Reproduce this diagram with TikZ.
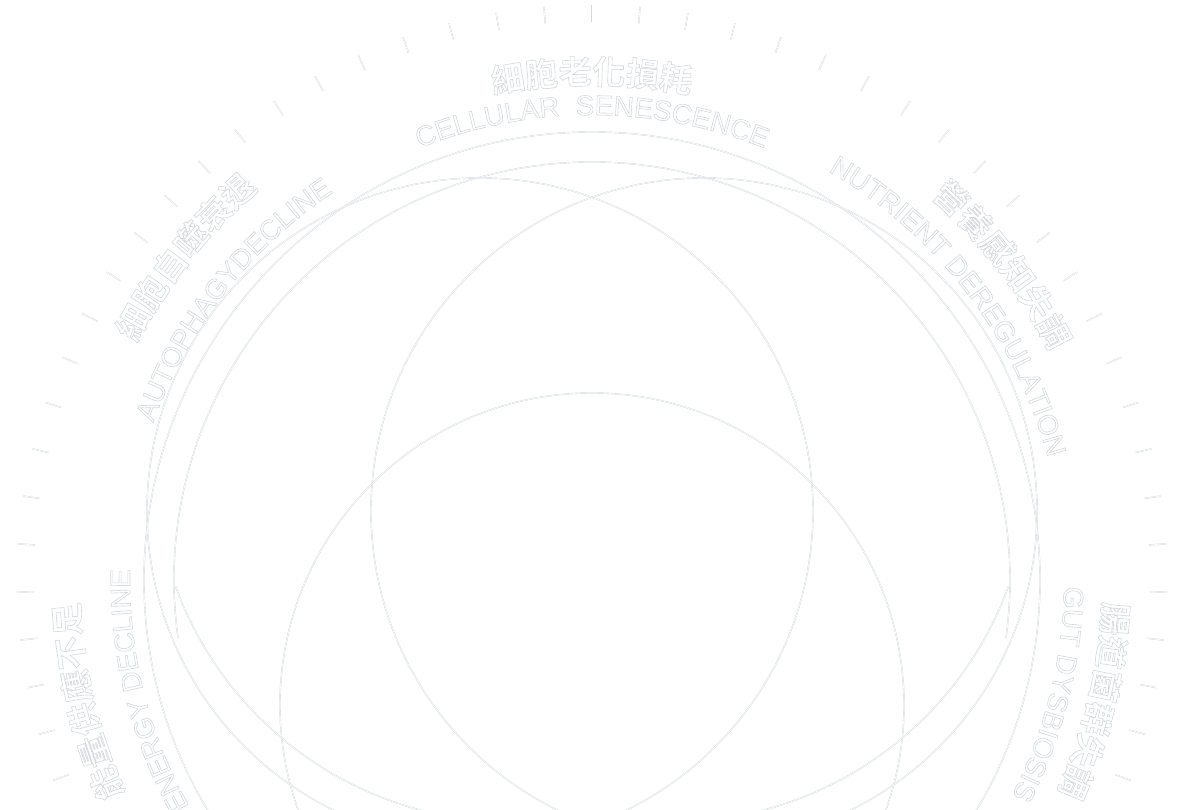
\documentclass[tikz,border=0pt]{standalone}
\usepackage{fontspec}
\setmainfont{Liberation Sans}
\newfontfamily\cjkf{Noto Sans CJK TC}[BoldFont={Noto Sans CJK TC Bold}]
\usetikzlibrary{decorations.text}
\definecolor{ln}{HTML}{D2D8DB}
\newcommand\outl{\special{pdf:code 1 Tr 0.6 w}}
\newcommand\efont{\fontsize{28}{30}\selectfont}
\newcommand\cfont{\cjkf\bfseries\fontsize{33}{35}\selectfont}
\tikzset{
  geo/.style={draw=ln,line width=0.4pt,double=white,double distance=0.6pt},
  tickln/.style={geo},
  arclbl/.style={decorate,decoration={text along path,text format delimiters={|}{|},text align=center,text color=ln,text={#1}}}
}
\newcommand\arclabel[4]{\path[arclbl={#1}] (C) ++(#3:#2) arc[start angle=#3,end angle=#4,radius=#2];}
\begin{document}
\begin{tikzpicture}[x=1pt,y=1pt]
\fill[white] (0,0) rectangle (1184,810);
\useasboundingbox (0,0) rectangle (1184,810);
\clip (0,0) rectangle (1184,810);
\coordinate (C) at (592,230);
\coordinate (L) at (480,299);
\coordinate (Rt) at (704,299);
\coordinate (B) at (592,105);
\coordinate (P) at (512,346);
\coordinate (Q) at (672,346);
% tick ring
\foreach \k in {0,...,74}{\draw[tickln] (C) ++({90-4.8*\k}:558) -- ++({90-4.8*\k}:17);}
% outer rings
\draw[geo] (C) circle[radius=448];
\draw[geo] (C) ++(188:418) arc[start angle=188,end angle=-8,radius=418];
\draw[geo] (P) ++(200:358) arc[start angle=200,end angle=265,radius=358];
\draw[geo] (Q) ++(-20:358) arc[start angle=-20,end angle=-85,radius=358];
% trefoil
\draw[geo] (L) circle[radius=333];
\draw[geo] (Rt) circle[radius=333];
\draw[geo] (B) circle[radius=312];
% labels
\arclabel{|\outl\efont|CELLULAR {\ }SENESCENCE}{465}{120}{60}
\arclabel{|\outl\cfont|細胞老化損耗}{496}{115}{65}
\arclabel{|\outl\efont|NUTRIENT DEREGULATION}{472}{70}{5}
\arclabel{|\outl\cfont|營養感知失調}{512}{60}{15}
\arclabel{|\outl\efont|AUTOPHAGYDECLINE}{466}{172}{112}
\arclabel{|\outl\cfont|細胞自噬衰退}{514}{165}{118}
\arclabel{|\outl\efont|ENERGY DECLINE}{462}{215}{173}
\arclabel{|\outl\cfont|能量供應不足}{514}{216}{171}
\arclabel{|\outl\efont|GUT DYSBIOSIS}{472}{16}{-44}
\arclabel{|\outl\cfont|腸道菌群失調}{512}{16}{-43}
\end{tikzpicture}
\end{document}
